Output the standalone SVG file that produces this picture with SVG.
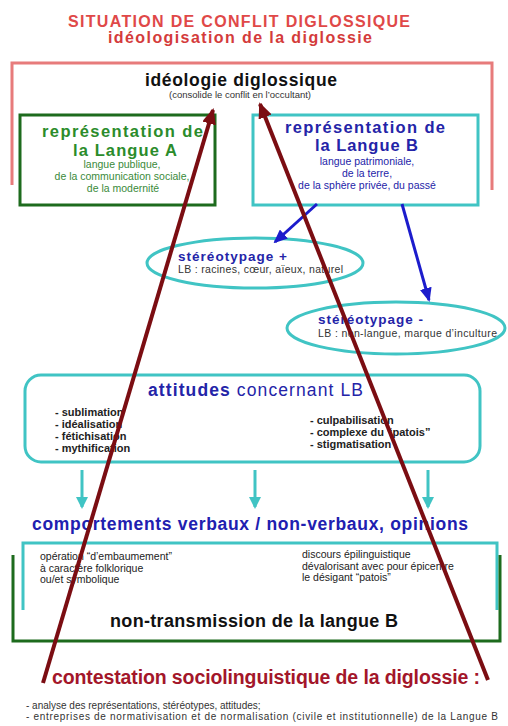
<svg xmlns="http://www.w3.org/2000/svg" width="508" height="726" viewBox="0 0 508 726">
<style>
text{font-family:"Liberation Sans",Arial,sans-serif}
.b{font-weight:bold}
.title{fill:#e04848;font-size:16px;font-weight:bold}
.red{fill:none;stroke:#e77b7b;stroke-width:3}
.grn{fill:none;stroke:#1d6b1d;stroke-width:3}
.cyn{fill:none;stroke:#40c4c4;stroke-width:3}
.gt{fill:#2b8c2b}
.bt{fill:#2424a8}
.sm{font-size:10.5px}
.dk{fill:#222}
.lst{font-size:11px;font-weight:bold;fill:#222}
.maroon{stroke:#7b0d12;stroke-width:4;fill:none}
.blue{stroke:#1c1ccc;stroke-width:3;fill:none}
.teal{stroke:#40c4c4;stroke-width:3;fill:none}
</style>
<defs>
<marker id="mh" markerUnits="userSpaceOnUse" markerWidth="16" markerHeight="14" refX="14" refY="7" orient="auto"><path d="M0,0 L16,7 L0,14 Z" fill="#7b0d12"/></marker>
<marker id="bh" markerUnits="userSpaceOnUse" markerWidth="14" markerHeight="12" refX="12" refY="6" orient="auto"><path d="M0,0 L14,6 L0,12 Z" fill="#1c1ccc"/></marker>
<marker id="th" markerUnits="userSpaceOnUse" markerWidth="12" markerHeight="12" refX="10" refY="6" orient="auto"><path d="M0,0 L12,6 L0,12 Z" fill="#40c4c4"/></marker>
</defs>
<rect width="508" height="726" fill="#fff"/>

<g id="title">
<text class="title" x="68" y="27" textLength="342">SITUATION DE CONFLIT DIGLOSSIQUE</text>
<text class="title" x="108" y="43" textLength="264" style="fill:#d43b3b">idéologisation de la diglossie</text>
</g>

<g id="ideologie">
<path class="red" d="M12,185 V63 H492 V190"/>
<text class="b" x="145" y="86" font-size="17.5" fill="#111" textLength="192">idéologie diglossique</text>
<text x="240" y="98" text-anchor="middle" font-size="9.5" fill="#333">(consolide le conflit en l’occultant)</text>
</g>

<g id="langueA">
<rect class="grn" x="20" y="115" width="195" height="90"/>
<text class="b gt" x="42" y="137" font-size="16.5" textLength="161">représentation de</text>
<text class="b gt" x="73" y="156" font-size="16.5" textLength="104">la Langue A</text>
<text class="sm" x="122" y="168" text-anchor="middle" fill="#3a8a3a">langue publique,</text>
<text class="sm" x="122" y="180" text-anchor="middle" fill="#3a8a3a">de la communication sociale,</text>
<text class="sm" x="123" y="192" text-anchor="middle" fill="#3a8a3a">de la modernité</text>
</g>

<g id="langueB">
<rect class="cyn" x="253" y="115" width="225" height="90"/>
<text class="b bt" x="285" y="133" font-size="16.5" textLength="160">représentation de</text>
<text class="b bt" x="315" y="151" font-size="16.5" textLength="103">la Langue B</text>
<text class="sm bt" x="367" y="165" text-anchor="middle">langue patrimoniale,</text>
<text class="sm bt" x="367" y="177" text-anchor="middle">de la terre,</text>
<text class="sm bt" x="367" y="189" text-anchor="middle">de la sphère privée, du passé</text>
</g>

<g id="stereoPlus">
<ellipse class="cyn" cx="255" cy="263" rx="108" ry="25"/>
<text class="b bt" x="178" y="261" font-size="13.5" textLength="109">stéréotypage +</text>
<text class="sm" x="178" y="273" fill="#333" textLength="165">LB : racines, cœur, aïeux, naturel</text>
</g>

<g id="stereoMinus">
<ellipse class="cyn" cx="396" cy="328" rx="109" ry="26"/>
<text class="b bt" x="318" y="324" font-size="13.5" textLength="105">stéréotypage -</text>
<text class="sm" x="318" y="337" fill="#333" textLength="179">LB : non-langue, marque d’inculture</text>
</g>

<g id="attitudes">
<rect class="cyn" x="25" y="375" width="455" height="87" rx="16"/>
<text x="148" y="396" font-size="17.5" fill="#2424a8" textLength="215"><tspan font-weight="bold">attitudes</tspan> concernant LB</text>
<text class="lst" x="55" y="416">- sublimation</text>
<text class="lst" x="55" y="428">- idéalisation</text>
<text class="lst" x="55" y="440">- fétichisation</text>
<text class="lst" x="55" y="452">- mythification</text>
<text class="lst" x="310" y="424">- culpabilisation</text>
<text class="lst" x="310" y="436">- complexe du “patois”</text>
<text class="lst" x="310" y="448">- stigmatisation</text>
</g>

<g id="comportements">
<text class="b" x="32" y="530" font-size="17.5" fill="#2020b0" textLength="436">comportements verbaux / non-verbaux, opinions</text>
<path class="cyn" d="M23,610 V543 H497 V610"/>
<text class="sm dk" x="40" y="560">opération “d’embaumement”</text>
<text class="sm dk" x="40" y="572">à caractère folklorique</text>
<text class="sm dk" x="40" y="583">ou/et symbolique</text>
<text class="sm dk" x="302" y="558">discours épilinguistique</text>
<text class="sm dk" x="302" y="570">dévalorisant avec pour épicentre</text>
<text class="sm dk" x="302" y="581">le désigant “patois”</text>
</g>

<g id="nonTransmission">
<path class="grn" d="M13,555 V641 H500 V555"/>
<text class="b" x="110" y="627" font-size="18" fill="#111" textLength="288">non-transmission de la langue B</text>
</g>

<g id="contestation">
<text class="b" x="52" y="684" font-size="19.5" fill="#a3162a" textLength="428">contestation sociolinguistique de la diglossie :</text>
<text x="26" y="709" font-size="10" fill="#333">- analyse des représentations, stéréotypes, attitudes;</text>
<text x="26" y="720" font-size="10" fill="#333" textLength="472">- entreprises de normativisation et de normalisation (civile et institutionnelle) de la Langue B</text>
</g>

<g id="connectors">
<line class="blue" x1="317" y1="204" x2="275" y2="242" marker-end="url(#bh)"/>
<line class="blue" x1="402" y1="204" x2="429" y2="300" marker-end="url(#bh)"/>
<line class="teal" x1="82" y1="470" x2="82" y2="507" marker-end="url(#th)"/>
<line class="teal" x1="255" y1="470" x2="255" y2="507" marker-end="url(#th)"/>
<line class="teal" x1="428" y1="470" x2="428" y2="507" marker-end="url(#th)"/>
<line class="maroon" x1="43" y1="683" x2="213" y2="110" marker-end="url(#mh)"/>
<line class="maroon" x1="488" y1="680" x2="260" y2="104" marker-end="url(#mh)"/>
</g>
</svg>
